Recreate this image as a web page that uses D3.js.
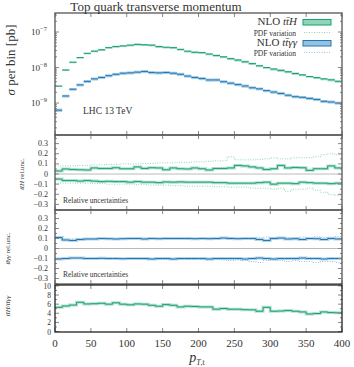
<!DOCTYPE html>
<html lang="en">
<head>
<meta charset="UTF-8">
<title>Top quark transverse momentum</title>
<script src="https://d3js.org/d3.v7.min.js"></script>
<style>
  body { margin: 0; background: #fff; }
  text { font-family: "Liberation Serif", serif; fill: #333; }
</style>
</head>
<body>
<svg width="354" height="367"></svg>
<script>
// bins of 10 GeV from 0 to 400
var binLo = d3.range(0, 400, 10);

// NLO ttH, sigma per bin [pb]
var ttH = [3.0e-9, 8.5e-9, 1.41e-8, 1.91e-8, 2.51e-8, 2.88e-8, 3.16e-8, 3.63e-8, 3.89e-8, 4.07e-8,
           4.27e-8, 4.47e-8, 4.37e-8, 4.27e-8, 3.89e-8, 3.72e-8, 3.63e-8, 3.24e-8, 2.88e-8, 2.69e-8,
           2.63e-8, 2.40e-8, 2.19e-8, 2.0e-8, 1.78e-8, 1.62e-8, 1.45e-8, 1.29e-8, 1.12e-8, 1.0e-8,
           9.1e-9, 8.3e-9, 7.6e-9, 6.8e-9, 6.2e-9, 5.6e-9, 5.2e-9, 4.8e-9, 4.5e-9, 4.1e-9];
// NLO tt gamma gamma
var ttAA = [6.3e-10, 1.58e-9, 2.45e-9, 3.24e-9, 4.07e-9, 4.79e-9, 5.25e-9, 5.89e-9, 6.46e-9, 6.92e-9,
            7.08e-9, 7.41e-9, 7.76e-9, 7.24e-9, 7.08e-9, 7.24e-9, 6.92e-9, 6.46e-9, 5.75e-9, 5.25e-9,
            4.9e-9, 4.47e-9, 4.47e-9, 3.98e-9, 3.63e-9, 3.31e-9, 3.02e-9, 2.69e-9, 2.51e-9, 2.24e-9,
            2.04e-9, 1.86e-9, 1.66e-9, 1.51e-9, 1.45e-9, 1.35e-9, 1.26e-9, 1.12e-9, 1.07e-9, 1.0e-9];

// relative scale uncertainties, ttH
var ttHUp = [0.03, 0.05, 0.045, 0.042, 0.04, 0.06, 0.055, 0.055, 0.062, 0.052,
             0.052, 0.07, 0.055, 0.062, 0.06, 0.042, 0.06, 0.052, 0.05, 0.06,
             0.052, 0.04, 0.055, 0.055, 0.06, 0.085, 0.08, 0.07, 0.06, 0.045,
             0.052, 0.085, 0.06, 0.065, 0.062, 0.036, 0.052, 0.052, 0.08, 0.06];
var ttHDn = [-0.05, -0.065, -0.065, -0.07, -0.065, -0.07, -0.075, -0.072, -0.075, -0.075,
             -0.08, -0.075, -0.08, -0.08, -0.085, -0.078, -0.08, -0.078, -0.08, -0.08,
             -0.08, -0.08, -0.085, -0.085, -0.09, -0.09, -0.09, -0.09, -0.085, -0.08,
             -0.1, -0.09, -0.09, -0.095, -0.08, -0.085, -0.09, -0.09, -0.095, -0.09];
// PDF variation, ttH
var ttHPdfUp = [0.08, 0.08, 0.08, 0.085, 0.085, 0.09, 0.09, 0.095, 0.095, 0.1,
                0.1, 0.1, 0.105, 0.105, 0.11, 0.11, 0.11, 0.115, 0.115, 0.12,
                0.12, 0.125, 0.13, 0.13, 0.17, 0.14, 0.14, 0.14, 0.145, 0.15,
                0.16, 0.15, 0.15, 0.16, 0.16, 0.16, 0.17, 0.19, 0.2, 0.19];
var ttHPdfDn = [-0.09, -0.09, -0.09, -0.09, -0.09, -0.095, -0.095, -0.1, -0.1, -0.1,
                -0.1, -0.105, -0.105, -0.11, -0.11, -0.11, -0.115, -0.115, -0.12, -0.12,
                -0.12, -0.12, -0.125, -0.125, -0.13, -0.13, -0.13, -0.14, -0.14, -0.14,
                -0.15, -0.14, -0.17, -0.15, -0.15, -0.14, -0.16, -0.18, -0.2, -0.21];

// relative scale uncertainties, tt gamma gamma
var ttAAUp = [0.11, 0.085, 0.08, 0.09, 0.095, 0.095, 0.1, 0.098, 0.095, 0.098,
              0.1, 0.1, 0.095, 0.1, 0.098, 0.1, 0.1, 0.1, 0.1, 0.098,
              0.1, 0.098, 0.1, 0.105, 0.1, 0.098, 0.1, 0.1, 0.09, 0.08,
              0.1, 0.105, 0.095, 0.098, 0.09, 0.1, 0.098, 0.09, 0.1, 0.095];
var ttAADn = [-0.105, -0.1, -0.095, -0.095, -0.1, -0.1, -0.098, -0.1, -0.1, -0.102,
              -0.1, -0.1, -0.1, -0.105, -0.1, -0.1, -0.105, -0.1, -0.1, -0.1,
              -0.1, -0.105, -0.1, -0.1, -0.1, -0.1, -0.105, -0.1, -0.095, -0.1,
              -0.105, -0.1, -0.1, -0.1, -0.095, -0.1, -0.1, -0.105, -0.1, -0.1];
var ttAAPdfUp = [0.1, 0.095, 0.095, 0.1, 0.1, 0.1, 0.1, 0.1, 0.1, 0.1,
                 0.1, 0.1, 0.102, 0.1, 0.1, 0.102, 0.1, 0.102, 0.1, 0.1,
                 0.1, 0.105, 0.1, 0.1, 0.11, 0.1, 0.1, 0.1, 0.11, 0.115,
                 0.11, 0.1, 0.11, 0.11, 0.115, 0.1, 0.12, 0.11, 0.115, 0.12];
var ttAAPdfDn = [-0.1, -0.1, -0.1, -0.1, -0.105, -0.1, -0.1, -0.105, -0.105, -0.1,
                 -0.105, -0.105, -0.11, -0.105, -0.11, -0.11, -0.105, -0.11, -0.11, -0.11,
                 -0.11, -0.115, -0.11, -0.115, -0.12, -0.115, -0.12, -0.13, -0.14, -0.12,
                 -0.115, -0.12, -0.13, -0.12, -0.13, -0.13, -0.14, -0.13, -0.13, -0.14];

// ratio ttH / tt gamma gamma
var ratio = [5.3, 5.6, 5.8, 6.4, 6.05, 6.1, 6.2, 6.0, 6.3, 6.0,
             5.85, 6.05, 6.0, 5.75, 5.55, 5.9, 5.75, 5.4, 5.55, 5.5,
             5.4, 5.4, 4.9, 5.05, 4.9, 4.9, 4.8, 4.75, 4.45, 5.3,
             4.45, 4.5, 4.6, 4.45, 4.3, 3.85, 3.95, 4.3, 4.15, 4.1];

var xTicks = [0, 50, 100, 150, 200, 250, 300, 350, 400];
var relTicks = [-0.3, -0.2, -0.1, 0, 0.1, 0.2, 0.3];
var ratioTicks = [0, 2, 4, 6, 8, 10];
var logTicks = [1e-9, 1e-8, 1e-7];

var greenDark = "#1f9d74", greenLight = "#8fd6b6";
var blueDark = "#2676b0", blueLight = "#93c3e3";

var svg = d3.select("svg");

var x = d3.scaleLinear().domain([0, 400]).range([55, 342]);
var yMain = d3.scaleLog().domain([1.26e-10, 3.43e-7]).range([135, 13]);
var yRel1 = d3.scaleLinear().domain([-0.355, 0.385]).range([210, 135]);
var yRel2 = d3.scaleLinear().domain([-0.355, 0.385]).range([284, 210]);
var yRat = d3.scaleLinear().domain([-0.1, 10.2]).range([332, 285]);

function stepPath(vals, y) {
    var pts = vals.map(function (v, i) { return [binLo[i], v]; });
    pts.push([400, vals[vals.length - 1]]);
    return d3.line()
        .x(function (d) { return x(d[0]); })
        .y(function (d) { return y(d[1]); })
        .curve(d3.curveStepAfter)(pts);
}

function drawStep(g, vals, y, dark, light) {
    g.append("path").attr("d", stepPath(vals, y))
        .attr("fill", "none").attr("stroke", light).attr("stroke-width", 3).attr("opacity", 0.7);
    g.append("path").attr("d", stepPath(vals, y))
        .attr("fill", "none").attr("stroke", dark).attr("stroke-width", 1);
}

function drawDots(g, vals, y, light) {
    g.append("path").attr("d", stepPath(vals, y))
        .attr("fill", "none").attr("stroke", light).attr("stroke-width", 1)
        .attr("stroke-dasharray", "1,1.5");
}

// x ticks on top and bottom of a panel, pointing inward
function xTickMarks(top, bottom) {
    var g = svg.append("g").attr("stroke", "#888").attr("stroke-width", 1);
    xTicks.forEach(function (t) {
        g.append("line").attr("x1", x(t)).attr("x2", x(t)).attr("y1", top).attr("y2", top + 4);
        g.append("line").attr("x1", x(t)).attr("x2", x(t)).attr("y1", bottom).attr("y2", bottom - 4);
    });
}

function yTickMarks(y, values, len) {
    var g = svg.append("g").attr("stroke", "#888").attr("stroke-width", 1);
    values.forEach(function (v) {
        g.append("line").attr("x1", 55).attr("x2", 55 + len).attr("y1", y(v)).attr("y2", y(v));
        g.append("line").attr("x1", 342).attr("x2", 342 - len).attr("y1", y(v)).attr("y2", y(v));
    });
}

function frame(top, bottom, color) {
    svg.append("rect").attr("x", 55).attr("y", top)
        .attr("width", 287).attr("height", bottom - top)
        .attr("fill", "none").attr("stroke", color).attr("stroke-width", 1.3);
}

// ---------------- main panel ----------------
var gMain = svg.append("g");
[[ttH, ttHUp, ttHDn, greenDark, greenLight], [ttAA, ttAAUp, ttAADn, blueDark, blueLight]].forEach(function (s) {
    s[0].forEach(function (v, i) {
        var x0 = x(binLo[i]), x1 = x(binLo[i] + 10);
        gMain.append("rect").attr("x", x0).attr("width", x1 - x0)
            .attr("y", yMain(v * (1 + s[1][i]))).attr("height", yMain(v * (1 + s[2][i])) - yMain(v * (1 + s[1][i])))
            .attr("fill", s[4]).attr("opacity", 0.85);
        gMain.append("line").attr("x1", x0).attr("x2", x1).attr("y1", yMain(v)).attr("y2", yMain(v))
            .attr("stroke", s[3]).attr("stroke-width", 1);
    });
});

var minorLog = [];
[1e-10, 1e-9, 1e-8, 1e-7].forEach(function (d) {
    for (var k = 2; k <= 9; k++) {
        var v = d * k;
        if (v > 1.26e-10 && v < 3.43e-7) minorLog.push(v);
    }
});
yTickMarks(yMain, logTicks, 4);
yTickMarks(yMain, minorLog, 2);
xTickMarks(13, 135);
frame(13, 135, "#555");

logTicks.forEach(function (t) {
    var e = Math.round(Math.log10(t));
    var tx = svg.append("text").attr("x", 47).attr("y", yMain(t) + 3)
        .attr("text-anchor", "end").attr("font-size", 9).attr("fill", "#555");
    tx.append("tspan").text("10");
    tx.append("tspan").attr("dy", -4).attr("font-size", 6.5).text("\u2212" + (-e));
});

svg.append("text").attr("x", 156).attr("y", 11).attr("text-anchor", "middle")
    .attr("font-size", 13).text("Top quark transverse momentum");

svg.append("text").attr("transform", "translate(15,60) rotate(-90)")
    .attr("text-anchor", "middle").attr("font-size", 13)
    .html("<tspan font-style='italic'>\u03c3</tspan> per bin [pb]");

svg.append("text").attr("x", 83).attr("y", 114).attr("font-size", 9.5).text("LHC 13 TeV");

// legend
var leg = svg.append("g");
leg.append("text").attr("x", 297).attr("y", 25).attr("text-anchor", "end").attr("font-size", 11)
    .html("NLO <tspan font-style='italic'>tt\u0304H</tspan>");
leg.append("rect").attr("x", 303).attr("y", 19.5).attr("width", 28).attr("height", 5.5)
    .attr("fill", greenLight).attr("stroke", greenDark).attr("stroke-width", 1);
leg.append("text").attr("x", 296).attr("y", 35.5).attr("text-anchor", "end").attr("font-size", 7.5)
    .text("PDF variation");
leg.append("line").attr("x1", 304).attr("x2", 330).attr("y1", 32.5).attr("y2", 32.5)
    .attr("stroke", greenLight).attr("stroke-dasharray", "1,1.5");
leg.append("text").attr("x", 297).attr("y", 46).attr("text-anchor", "end").attr("font-size", 11)
    .html("NLO <tspan font-style='italic'>tt\u0304\u03b3\u03b3</tspan>");
leg.append("rect").attr("x", 303).attr("y", 40.5).attr("width", 28).attr("height", 5.5)
    .attr("fill", blueLight).attr("stroke", blueDark).attr("stroke-width", 1);
leg.append("text").attr("x", 296).attr("y", 55.5).attr("text-anchor", "end").attr("font-size", 7.5)
    .text("PDF variation");
leg.append("line").attr("x1", 304).attr("x2", 330).attr("y1", 52.5).attr("y2", 52.5)
    .attr("stroke", blueLight).attr("stroke-dasharray", "1,1.5");

// ---------------- relative uncertainty panels ----------------
function relPanel(y, top, bottom, up, dn, pUp, pDn, dark, light, label, lx) {
    var g = svg.append("g");
    g.append("line").attr("x1", 55).attr("x2", 342).attr("y1", y(0)).attr("y2", y(0))
        .attr("stroke", "#bbb").attr("stroke-width", 1);
    drawDots(g, pUp, y, light);
    drawDots(g, pDn, y, light);
    drawStep(g, up, y, dark, light);
    drawStep(g, dn, y, dark, light);
    yTickMarks(y, relTicks, 4);
    yTickMarks(y, [-0.35, -0.25, -0.15, -0.05, 0.05, 0.15, 0.25, 0.35], 2);
    xTickMarks(top, bottom);
    frame(top, bottom, "#555");
    relTicks.forEach(function (t) {
        svg.append("text").attr("x", 48).attr("y", y(t) + 2.5).attr("text-anchor", "end")
            .attr("font-size", 8).attr("fill", "#555").text(t === 0 ? "0" : d3.format(".1f")(t));
    });
    svg.append("text").attr("x", 63).attr("y", bottom - 7).attr("font-size", 7.5).text("Relative uncertainties");
    svg.append("text").attr("transform", "translate(" + lx + "," + y(0) + ") rotate(-90)")
        .attr("text-anchor", "middle").attr("font-size", 7).html(label);
}

relPanel(yRel1, 135, 210, ttHUp, ttHDn, ttHPdfUp, ttHPdfDn, greenDark, greenLight,
    "<tspan font-style='italic'>tt\u0304H</tspan> rel.unc.", 24);
relPanel(yRel2, 210, 284, ttAAUp, ttAADn, ttAAPdfUp, ttAAPdfDn, blueDark, blueLight,
    "<tspan font-style='italic'>tt\u0304\u03b3\u03b3</tspan> rel.unc.", 10);

// ---------------- ratio panel ----------------
var gRat = svg.append("g");
drawStep(gRat, ratio, yRat, greenDark, greenLight);
yTickMarks(yRat, ratioTicks, 4);
yTickMarks(yRat, [1, 3, 5, 7, 9], 2);
xTickMarks(285, 332);
frame(285, 332, "#222");
ratioTicks.forEach(function (t) {
    svg.append("text").attr("x", 51).attr("y", yRat(t) + 3).attr("text-anchor", "end")
        .attr("font-size", 7.5).attr("fill", "#555").text(t);
});
svg.append("text").attr("transform", "translate(10,306) rotate(-90)")
    .attr("text-anchor", "middle").attr("font-size", 7)
    .html("<tspan font-style='italic'>tt\u0304H</tspan>/<tspan font-style='italic'>tt\u0304\u03b3\u03b3</tspan>");

xTicks.forEach(function (t) {
    svg.append("text").attr("x", x(t)).attr("y", 347).attr("text-anchor", "middle")
        .attr("font-size", 11).attr("fill", "#444").text(t);
});
svg.append("text").attr("x", 197).attr("y", 362).attr("text-anchor", "middle").attr("font-size", 14)
    .html("<tspan font-style='italic'>p</tspan><tspan font-size='8' dy='3'><tspan font-style='italic'>T</tspan>,t</tspan>");
</script>
</body>
</html>
